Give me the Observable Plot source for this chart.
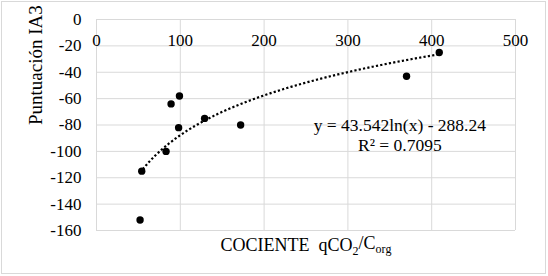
<!DOCTYPE html>
<html>
<head>
<meta charset="utf-8">
<script src="https://cdn.jsdelivr.net/npm/d3@7"></script>
<script src="https://cdn.jsdelivr.net/npm/@observablehq/plot@0.6"></script>
<style>
  html, body { margin: 0; padding: 0; background: #fff; }
  #chart svg { display: block; }
  #chart svg, #chart svg text { font-family: "Liberation Serif", "Times New Roman", serif !important; }
</style>
</head>
<body>
<div id="chart"></div>
<script>
// ---- data ----
const cociente   = [52, 54, 83, 89, 98, 99, 129, 172, 370, 409];
const puntuacion = [-152, -115, -100, -64, -82, -58, -75, -80, -43, -25];

const xTicks = [0, 100, 200, 300, 400, 500];
const yTicks = [0, -20, -40, -60, -80, -100, -120, -140, -160];

// logarithmic trendline as printed on the chart
const trendA = 43.542;
const trendB = -288.24;
const trendR2 = "0.7095";

const yTitle = "Puntuación IA3";
const xTitleParts = [["COCIENTE  qCO", false], ["2", true], ["/C", false], ["org", true]];
const xTitle = xTitleParts.map(p => p[0]).join("");
const eqText = `y = ${trendA}ln(x) - ${Math.abs(trendB)}\nR² = ${trendR2}`;
const eqAnchor = [{x: 362, y: -87}];

// ---- derived tables ----
const points = cociente.map((c, i) => ({c, p: puntuacion[i]}));
const xMin = d3.min(cociente), xMax = d3.max(cociente);
const trend = d3.range(0, 201).map(i => {
  const x = xMin * Math.pow(xMax / xMin, i / 200);
  return {x, y: trendA * Math.log(x) + trendB};
});

const font = "Liberation Serif";
const grid = "#d9d9d9";

const chart = Plot.plot({
  width: 548,
  height: 276,
  marginLeft: 96,
  marginRight: 33,
  marginTop: 19,
  marginBottom: 46,
  style: {fontFamily: font, background: "#fff", color: "#000"},
  x: {domain: [0, 500], axis: null},
  y: {domain: [-160, 0], axis: null},
  marks: [
    Plot.gridX(xTicks, {stroke: grid, strokeOpacity: 1, strokeWidth: 1}),
    Plot.gridY(yTicks, {stroke: grid, strokeOpacity: 1, strokeWidth: 1}),
    Plot.axisY({ticks: yTicks, tickSize: 0, tickPadding: 15, tickFormat: d => String(d),
                fontSize: 17, label: null, fill: "#000", fontFamily: font}),
    Plot.text(xTicks, {x: d => d, text: d => String(d), frameAnchor: "top",
                       lineAnchor: "top", dy: 14, fontSize: 17, fill: "#000", fontFamily: font}),
    Plot.text([yTitle], {text: d => d, frameAnchor: "left", rotate: -90, dx: -61,
                         fontSize: 19, fill: "#000", fontFamily: font}),
    Plot.text([xTitle], {text: d => d, frameAnchor: "bottom", lineAnchor: "top", dy: 8,
                         fontSize: 18, fill: "#000", fontFamily: font}),
    Plot.line(trend, {x: "x", y: "y", stroke: "#000", strokeWidth: 2.2,
                      strokeDasharray: "2.2,2.2", strokeLinecap: "butt"}),
    Plot.dot(points, {x: "c", y: "p", r: 3.7, fill: "#000", stroke: "none"}),
    Plot.text(eqAnchor, {x: "x", y: "y", text: () => eqText, fontSize: 17.5,
                         lineHeight: 1.18, fill: "#000", fontFamily: font})
  ]
});

// subscripts in the x title
d3.select(chart).selectAll("text").filter(function () {
  return this.textContent === xTitle;
}).each(function () {
  const t = d3.select(this);
  t.text(null);
  let sub = false;
  xTitleParts.forEach(([s, isSub]) => {
    const ts = t.append("tspan").text(s);
    if (isSub && !sub) ts.attr("dy", "0.3em");
    if (!isSub && sub) ts.attr("dy", "-0.3em");
    if (isSub) ts.attr("font-size", "12px");
    sub = isSub;
  });
});

// light outer border of the chart area
d3.select(chart).append("rect")
  .attr("x", 1.5).attr("y", 1.5).attr("width", 544).attr("height", 272)
  .attr("fill", "none").attr("stroke", grid);

document.getElementById("chart").appendChild(chart);
</script>
</body>
</html>
